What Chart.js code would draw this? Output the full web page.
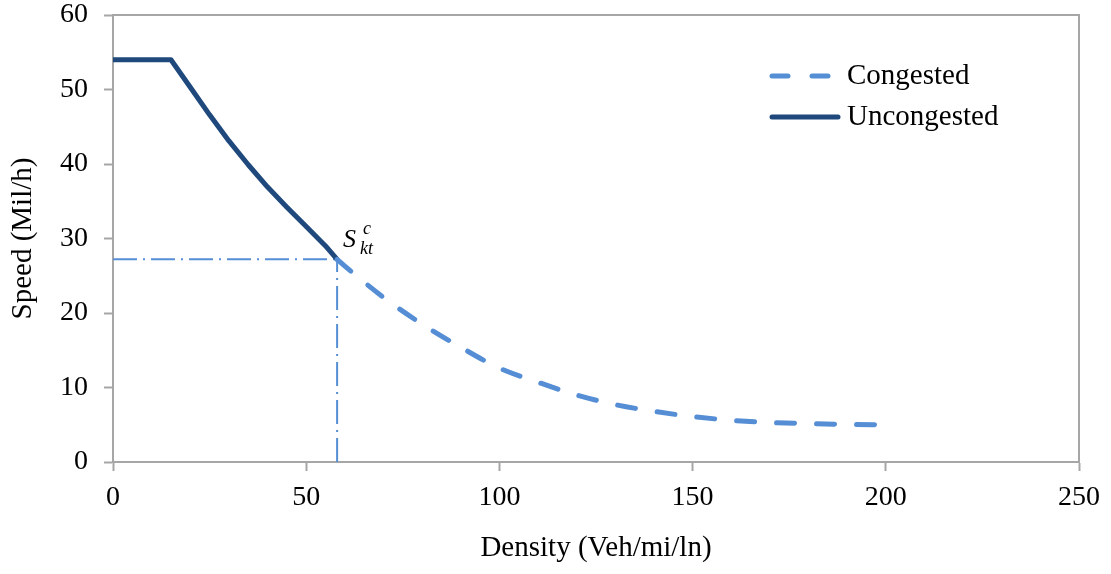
<!DOCTYPE html>
<html>
<head>
<meta charset="utf-8">
<script src="https://cdn.jsdelivr.net/npm/chart.js@4.4.1/dist/chart.umd.min.js"></script>
<style>
  html, body { margin: 0; padding: 0; background: #fff; }
  #wrap { width: 1111px; height: 574px; }
</style>
</head>
<body>
<div id="wrap"><canvas id="speed"></canvas></div>
<script>
// speed-density relationship
let uncongestedX = [0, 15, 20, 25, 30, 35, 40, 45, 50, 55, 58];
let uncongestedY = [54, 54, 50.3, 46.6, 43.1, 39.9, 36.9, 34.2, 31.6, 29.0, 27.2];
let congestedX = [58, 60, 70, 80, 90, 100, 110, 120, 130, 140, 150, 160, 170, 180, 190, 200];
let congestedY = [27.2, 26.3, 22.1, 18.5, 15.4, 12.6, 10.7, 9.0, 7.7, 6.8, 6.1, 5.6, 5.3, 5.15, 5.05, 5.0];
let critDensity = 58;
let critSpeed = 27.2;

let xTicks = [0, 50, 100, 150, 200, 250];
let yTicks = [0, 10, 20, 30, 40, 50, 60];

const dark = '#1F497D';
const light = '#558ED5';
const axisGray = '#A6A6A6';
const serif = '"Liberation Serif", "Times New Roman", serif';

function pts(xs, ys) {
    return xs.map((x, i) => ({x: x, y: ys[i]}));
}

// frame, legend and S label drawn by hand
const extras = {
    id: 'extras',
    beforeDatasetsDraw(chart) {
        let c = chart.ctx, a = chart.chartArea;
        c.save();
        c.strokeStyle = axisGray;
        c.lineWidth = 2;
        c.strokeRect(a.left, a.top, a.right - a.left, a.bottom - a.top);
        c.restore();
    },
    afterDraw(chart) {
        let c = chart.ctx;
        c.save();
        c.lineCap = 'round';
        c.lineWidth = 5;
        c.strokeStyle = light;
        c.setLineDash([16, 24]);
        c.beginPath(); c.moveTo(772, 76); c.lineTo(838, 76); c.stroke();
        c.setLineDash([]);
        c.strokeStyle = dark;
        c.beginPath(); c.moveTo(772, 117); c.lineTo(838, 117); c.stroke();

        c.fillStyle = '#000';
        c.font = '29px ' + serif;
        c.textBaseline = 'middle';
        c.textAlign = 'left';
        c.fillText('Congested', 847, 76);
        c.fillText('Uncongested', 847, 117);

        // S_kt^c near the critical point
        c.font = 'italic 26px ' + serif;
        c.textBaseline = 'alphabetic';
        c.fillText('S', 343, 247);
        c.font = 'italic 18px ' + serif;
        c.fillText('c', 363, 234);
        c.fillText('kt', 360, 254);
        c.restore();
    }
};

let config = {
    type: 'line',
    data: {
        datasets: [
            {
                label: 'Congested',
                data: pts(congestedX, congestedY),
                borderColor: light,
                borderWidth: 5,
                borderDash: [18, 22],
                borderCapStyle: 'round',
                cubicInterpolationMode: 'monotone',
                pointRadius: 0
            },
            {
                label: 'Uncongested',
                data: pts(uncongestedX, uncongestedY),
                borderColor: dark,
                borderWidth: 5,
                borderCapStyle: 'round',
                borderJoinStyle: 'round',
                tension: 0,
                pointRadius: 0
            },
            {
                label: 'ref-h',
                data: [{x: 0, y: critSpeed}, {x: critDensity, y: critSpeed}],
                borderColor: light,
                borderWidth: 2,
                borderDash: [24, 6, 2, 6],
                pointRadius: 0
            },
            {
                label: 'ref-v',
                data: [{x: critDensity, y: 0}, {x: critDensity, y: critSpeed}],
                borderColor: light,
                borderWidth: 2,
                borderDash: [24, 6, 2, 6],
                pointRadius: 0
            }
        ]
    },
    options: {
        responsive: true,
        maintainAspectRatio: false,
        animation: false,
        layout: {padding: {top: 15, right: 32, bottom: 8, left: 6}},
        plugins: {legend: {display: false}, tooltip: {enabled: false}},
        scales: {
            x: {
                type: 'linear',
                min: 0, max: 250,
                afterBuildTicks: s => { s.ticks = xTicks.map(v => ({value: v})); },
                grid: {drawOnChartArea: false, tickLength: 9, tickColor: axisGray, tickWidth: 2},
                border: {color: axisGray, width: 2},
                ticks: {color: '#000', font: {family: serif, size: 28}, padding: 10},
                title: {display: true, text: 'Density (Veh/mi/ln)', color: '#000',
                        font: {family: serif, size: 29}, padding: {top: 12, bottom: 0}},
                afterFit: s => { s.height = 104; s.paddingLeft = 0; s.paddingRight = 0; }
            },
            y: {
                min: 0, max: 60,
                afterBuildTicks: s => { s.ticks = yTicks.map(v => ({value: v})); },
                grid: {drawOnChartArea: false, tickLength: 9, tickColor: axisGray, tickWidth: 2},
                border: {color: axisGray, width: 2},
                ticks: {color: '#000', font: {family: serif, size: 28}, padding: 16},
                title: {display: true, text: 'Speed (Mil/h)', color: '#000',
                        font: {family: serif, size: 29}, padding: {top: 0, bottom: 4}},
                afterFit: s => { s.width = 107; s.paddingTop = 0; s.paddingBottom = 0; }
            }
        }
    },
    plugins: [extras]
};

let ctx = document.getElementById('speed').getContext('2d');
window.speedChart = new Chart(ctx, config);
</script>
</body>
</html>
